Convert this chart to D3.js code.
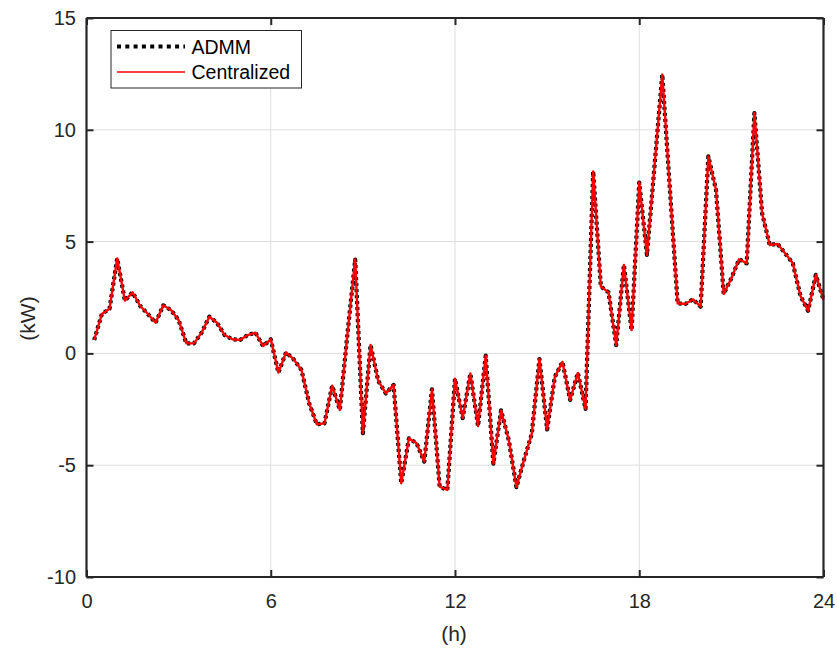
<!DOCTYPE html>
<html>
<head>
<meta charset="utf-8">
<script src="https://cdn.jsdelivr.net/npm/d3@7"></script>
<style>
  html, body { margin: 0; padding: 0; background: #fff; }
  svg { display: block; font-family: "Liberation Sans", Arial, Helvetica, sans-serif; }
</style>
</head>
<body>
<svg id="chart" width="837" height="648"></svg>
<script>
// Power profile over one day, 15-minute resolution (kW)
const hours = d3.range(1, 97).map(i => i * 0.25);

const admm = [
  0.60, 1.76, 2.00, 4.25, 2.36, 2.73, 2.12, 1.76, 1.37, 2.15, 1.94, 1.49,
  0.45, 0.45, 0.93, 1.64, 1.37, 0.82, 0.63, 0.60, 0.82, 0.93, 0.33, 0.63,
  -0.86, 0.05, -0.27, -0.74, -2.23, -3.17, -3.13, -1.44, -2.53, 0.90, 4.20, -3.57,
  0.38, -1.23, -1.79, -1.41, -5.81, -3.80, -4.02, -4.84, -1.61, -5.96, -6.11, -1.13,
  -2.89, -0.90, -3.25, -0.10, -4.93, -2.55, -3.87, -5.98, -4.75, -3.60, -0.25, -3.40,
  -1.05, -0.38, -2.08, -0.87, -2.48, 8.14, 2.99, 2.73, 0.37, 3.96, 1.04, 7.64,
  4.41, 8.43, 12.47, 7.30, 2.24, 2.21, 2.42, 2.09, 8.81, 7.31, 2.66, 3.36,
  4.21, 4.03, 10.75, 6.27, 4.85, 4.90, 4.48, 4.03, 2.57, 1.91, 3.51, 2.39
];

const centralized = [
  0.60, 1.76, 2.00, 4.25, 2.36, 2.73, 2.12, 1.76, 1.37, 2.15, 1.94, 1.49,
  0.45, 0.45, 0.93, 1.64, 1.37, 0.82, 0.63, 0.60, 0.82, 0.93, 0.33, 0.63,
  -0.86, 0.05, -0.27, -0.74, -2.23, -3.17, -3.13, -1.44, -2.53, 0.90, 4.20, -3.57,
  0.38, -1.23, -1.79, -1.41, -5.81, -3.80, -4.02, -4.84, -1.61, -5.96, -6.11, -1.13,
  -2.89, -0.90, -3.25, -0.10, -4.93, -2.55, -3.87, -5.98, -4.75, -3.60, -0.25, -3.40,
  -1.05, -0.38, -2.08, -0.87, -2.48, 8.14, 2.99, 2.73, 0.37, 3.96, 1.04, 7.64,
  4.41, 8.43, 12.47, 7.30, 2.24, 2.21, 2.42, 2.09, 8.81, 7.31, 2.66, 3.36,
  4.21, 4.03, 10.75, 6.27, 4.85, 4.90, 4.48, 4.03, 2.57, 1.91, 3.51, 2.39
];

const xTicks = [0, 6, 12, 18, 24];
const yTicks = [-10, -5, 0, 5, 10, 15];
const seriesNames = ["ADMM", "Centralized"];

const svg = d3.select("#chart");
const pL = 86.5, pR = 823.5, pT = 18, pB = 577;

const x = d3.scaleLinear().domain([0, 24]).range([pL, pR]);
const y = d3.scaleLinear().domain([-10, 15]).range([pB, pT]);

// grid
const grid = svg.append("g").attr("stroke", "#dedede").attr("stroke-width", 1);
grid.selectAll(".gx").data(xTicks.slice(1, -1)).enter().append("line")
  .attr("x1", d => x(d)).attr("x2", d => x(d)).attr("y1", pT).attr("y2", pB);
grid.selectAll(".gy").data(yTicks.slice(1, -1)).enter().append("line")
  .attr("y1", d => y(d)).attr("y2", d => y(d)).attr("x1", pL).attr("x2", pR);

// series
const pts = (vals) => hours.map((h, i) => [h, vals[i]]);
const line = d3.line().x(d => x(d[0])).y(d => y(d[1]));

svg.append("path").datum(pts(admm))
  .attr("d", line).attr("fill", "none")
  .attr("stroke", "#000").attr("stroke-width", 4.2)
  .attr("stroke-dasharray", "3,3").attr("stroke-linejoin", "round");

svg.append("path").datum(pts(centralized))
  .attr("d", line).attr("fill", "none")
  .attr("stroke", "#ff0000").attr("stroke-width", 2.4)
  .attr("stroke-linejoin", "round");

// axes (box with inward ticks on all sides)
const tickLen = 7;
const axisColor = "#262626";
const fmt = d => String(d);
const axBottom = d3.axisBottom(x).tickValues(xTicks).tickSize(-tickLen).tickPadding(17).tickFormat(fmt);
const axTop = d3.axisTop(x).tickValues(xTicks).tickSize(-tickLen).tickFormat("");
const axLeft = d3.axisLeft(y).tickValues(yTicks).tickSize(-tickLen).tickPadding(10.5).tickFormat(fmt);
const axRight = d3.axisRight(y).tickValues(yTicks).tickSize(-tickLen).tickFormat("");

function styleAxis(g) {
  g.select(".domain").attr("stroke", axisColor).attr("stroke-width", 2.2);
  g.selectAll(".tick line").attr("stroke", axisColor).attr("stroke-width", 2);
  g.selectAll(".tick text").attr("fill", "#262626").attr("font-size", 20)
    .attr("font-family", "'Liberation Sans', Arial, sans-serif");
}

svg.append("g").attr("transform", `translate(0,${pB})`).call(axBottom).call(g => {
  styleAxis(g);
  g.select(".domain").attr("d", `M${pL},0H${pR}`);
});
svg.append("g").attr("transform", `translate(0,${pT})`).call(axTop).call(g => {
  styleAxis(g);
  g.select(".domain").attr("d", `M${pL},0H${pR}`);
});
svg.append("g").attr("transform", `translate(${pL},0)`).call(axLeft).call(g => {
  styleAxis(g);
  g.select(".domain").attr("d", `M0,${pT}V${pB}`);
});
svg.append("g").attr("transform", `translate(${pR},0)`).call(axRight).call(g => {
  styleAxis(g);
  g.select(".domain").attr("d", `M0,${pT}V${pB}`);
});

// axis labels
svg.append("text").attr("x", (pL + pR) / 2 - 1).attr("y", 641)
  .attr("text-anchor", "middle").attr("font-size", 21).attr("fill", "#262626")
  .text("(h)");
svg.append("text")
  .attr("transform", `translate(35,${(pT + pB) / 2 + 21}) rotate(-90)`)
  .attr("text-anchor", "middle").attr("font-size", 21).attr("fill", "#262626")
  .text("(kW)");

// legend
const lg = svg.append("g");
lg.append("rect").attr("x", 111).attr("y", 30.5).attr("width", 190.5).attr("height", 57.5)
  .attr("fill", "#fff").attr("stroke", "#262626").attr("stroke-width", 1);
const legendRows = [
  { name: seriesNames[0], color: "#000", width: 4, dash: "4,4.3" },
  { name: seriesNames[1], color: "#ff0000", width: 1.5, dash: null }
];
legendRows.forEach((r, i) => {
  const cy = 46.5 + i * 25.5;
  lg.append("line").attr("x1", 117).attr("x2", 185).attr("y1", cy).attr("y2", cy)
    .attr("stroke", r.color).attr("stroke-width", r.width)
    .attr("stroke-dasharray", r.dash);
  lg.append("text").attr("x", 191.5).attr("y", cy).attr("dy", "0.36em")
    .attr("font-size", 19.5).attr("fill", "#000").text(r.name);
});
</script>
</body>
</html>
